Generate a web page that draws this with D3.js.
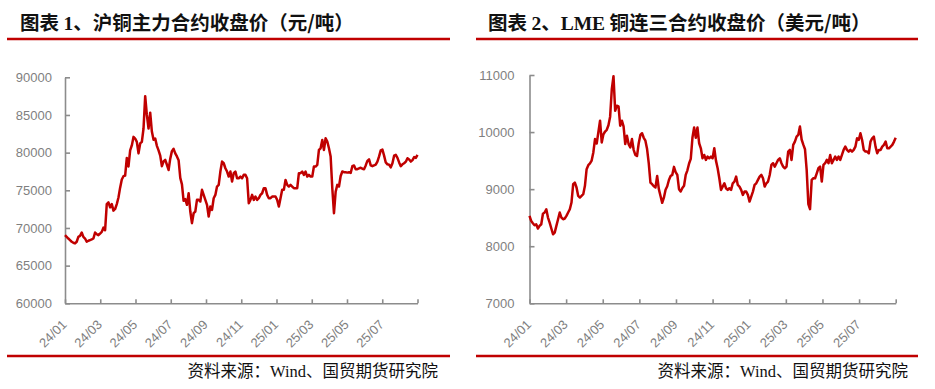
<!DOCTYPE html>
<html>
<head>
<meta charset="utf-8">
<script src="https://cdn.jsdelivr.net/npm/d3@7"></script>
<style>
  html, body { margin: 0; padding: 0; background: #fff; }
  svg { display: block; }
  .tick text { font-family: "Liberation Sans", Arial, sans-serif; font-size: 13px; fill: #7f7f7f; }
</style>
</head>
<body>
<svg id="chart" width="935" height="389"></svg>
<script>
// ---- data -------------------------------------------------------
const monthLabels = ["24/01", "24/03", "24/05", "24/07", "24/09", "24/11", "25/01", "25/03", "25/05", "25/07"];

const shfeTicks = [60000, 65000, 70000, 75000, 80000, 85000, 90000];
const lmeTicks = [7000, 8000, 9000, 10000, 11000];

// 沪铜主力合约收盘价 (元/吨)
const shfeClose = [
  69040, 68820, 68600, 68390, 68170, 68040, 67950, 68170, 68820, 68950,
  69390, 68820, 68600, 68170, 68300, 68390, 68480, 68600, 69390, 69170,
  69040, 69260, 69480, 70040, 69700, 73170, 73390, 72740, 73170, 72300,
  72520, 73170, 74040, 75350, 76430, 76870, 76960, 79300, 78170, 80300,
  80960, 82090, 81870, 81430, 79900, 81220, 81430, 83200, 87500, 85000,
  83200, 85300, 82800, 81700, 81870, 80900, 80300, 79600, 78200, 78830,
  79040, 78390, 77700, 79200, 80200, 80500, 79900, 79500, 79000, 76650,
  75780, 73610, 73830,
  73070, 74610, 72180, 70640, 71960, 72180, 73730, 73730, 73510, 75060,
  74390, 73730, 73070, 71520, 72850, 72400, 73950, 74390, 75500, 75720,
  77490, 78810, 78590, 77930, 77490, 76820, 77490, 76160, 77270, 77490,
  76600, 76600, 76820, 76600, 77050, 77050, 76600, 73290, 73730, 74390,
  73730, 74170, 73730, 73950, 74390, 74610, 75280, 75280, 74390, 73950,
  73950, 74170, 74170, 74170, 73730, 72850, 73950, 75060, 75060, 76380,
  75720, 75500, 75720, 75500, 75280, 75280, 75280, 77270, 77270, 77490,
  77050, 77490,
  76820, 77050, 76820, 76820, 78150, 78150, 78370, 80360, 80580, 81690,
  80360, 81910, 81470, 80580, 79500, 75280, 71960, 74800, 75720, 75500,
  76900, 77500, 77400, 77400, 77350, 77400, 77300, 78200, 78300, 77800,
  77800, 77900, 78000, 77850, 77800, 78300, 78900, 79100, 78300, 78200,
  78300, 78400, 78800, 79500, 80300, 80400, 79600, 78700, 78450, 78400,
  78050, 78600, 79600, 79700, 79300, 78700, 78200, 78450, 78590, 78800,
  79255, 79100, 78810, 79000, 79400, 79300, 79700
];

// LME 铜连三合约收盘价 (美元/吨)
const lmeClose = [
  8531, 8444, 8403, 8368, 8385, 8310, 8356, 8385, 8570, 8590,
  8648, 8502, 8414, 8310, 8210, 8239, 8356, 8473, 8590, 8502,
  8473, 8485, 8531, 8590, 8648, 8765, 9087, 9116, 9029, 8882,
  8853, 8882, 8912, 9058, 9350, 9420, 9450, 9500, 9643, 9877,
  9800, 10000, 10199, 9818, 9960, 10010, 10040, 10120, 10270, 10754,
  10980, 10374, 10462, 10450, 10111, 10199, 10100, 9789, 9935, 9789,
  9731, 9877, 9690, 9600, 9580, 9800, 9950, 9980, 9900, 9850,
  9702, 9450, 9116, 9087,
  9050, 9030, 9230, 9000, 8880, 8760, 8850, 8990, 9050, 9160,
  9230, 9250, 9390, 9300, 9250, 9000, 8960, 9020, 9060, 9250,
  9330, 9450, 9530, 9900, 10080, 9900, 10080,
  9804, 9716, 9541, 9599, 9512, 9570, 9541, 9570, 9541, 9716,
  9500, 9366, 9191, 8987, 9045, 9103, 9016, 8987, 9016, 8987,
  9103, 9133, 9220, 9074, 9045, 8987, 8899, 8957, 8957, 8899,
  8782, 8870, 8957, 9074, 9103, 9162, 9220, 9249, 9191, 9045,
  9103, 9133, 9249, 9424, 9454, 9395, 9454, 9512, 9541, 9454,
  9395, 9366, 9395, 9658, 9687, 9512, 9775, 9833, 9920, 9950,
  10096, 9870, 9780, 9700, 9337, 8740, 8650, 9162, 9191, 9191,
  9278, 9366, 9395, 9133, 9424, 9454, 9512, 9454, 9599, 9454,
  9512, 9570, 9512, 9570, 9512, 9599, 9687, 9745, 9687, 9658,
  9687, 9658, 9687, 9745, 9891, 9862, 9980, 9862, 9687, 9658,
  9658, 9629, 9833, 9891, 9920, 9745, 9629, 9687, 9687, 9745,
  9775, 9833, 9716, 9716, 9745, 9775, 9833, 9900
];

// ---- layout -------------------------------------------------------
const RED = "#c00000";
const AXIS = "#8c8c8c";
const svg = d3.select("#chart");

const panels = [
  {
    title: [["图表 ", "cjk"], ["1", "lat"], ["、沪铜主力合约收盘价（元/吨）", "cjk"]],
    titleX: 20, ruleX: [7, 450], sourceX: 438,
    values: shfeClose, ticks: shfeTicks,
    plot: { left: 65, right: 417.5, top: 77.3, bottom: 303.3 },
    labelPad: 13
  },
  {
    title: [["图表 ", "cjk"], ["2", "lat"], ["、", "cjk"], ["LME", "lat"], [" 铜连三合约收盘价（美元/吨）", "cjk"]],
    titleX: 488, ruleX: [476, 918], sourceX: 908,
    values: lmeClose, ticks: lmeTicks,
    plot: { left: 529.5, right: 895.7, top: 75, bottom: 303.3 },
    labelPad: 15
  }
];

panels.forEach(drawPanel);

function drawPanel(p) {
  // title + red rules
  const t = svg.append("text")
    .attr("x", p.titleX).attr("y", 30)
    .attr("font-size", 19.5).attr("font-weight", "bold").attr("fill", "#111");
  p.title.forEach(([s, kind]) => {
    t.append("tspan")
      .attr("font-family", kind === "lat" ? "'Liberation Serif', serif" : "'Noto Sans CJK SC', sans-serif")
      .text(s);
  });

  [39, 356].forEach(y => {
    svg.append("line")
      .attr("x1", p.ruleX[0]).attr("x2", p.ruleX[1])
      .attr("y1", y).attr("y2", y)
      .attr("stroke", RED).attr("stroke-width", 2.3);
  });

  const src = svg.append("text")
    .attr("x", p.sourceX).attr("y", 377)
    .attr("text-anchor", "end")
    .attr("font-size", 16.5).attr("fill", "#111")
    .attr("font-family", "'Noto Sans CJK SC', sans-serif");
  src.append("tspan").text("资料来源：");
  src.append("tspan").attr("font-family", "'Liberation Serif', serif").text("Wind");
  src.append("tspan").text("、国贸期货研究院");

  // scales
  const n = p.values.length;
  const x = d3.scaleLinear().domain([0, n - 1]).range([p.plot.left, p.plot.right]);
  const y = d3.scaleLinear()
    .domain([p.ticks[0], p.ticks[p.ticks.length - 1]])
    .range([p.plot.bottom, p.plot.top]);

  // y axis, ticks pointing inward
  const gy = svg.append("g")
    .attr("transform", `translate(${p.plot.left},0)`)
    .call(d3.axisLeft(y).tickValues(p.ticks).tickFormat(d3.format("d"))
      .tickSizeInner(-5).tickSizeOuter(0).tickPadding(p.labelPad));
  gy.select(".domain").attr("stroke", AXIS).attr("stroke-width", 1.6);
  gy.selectAll(".tick line").attr("stroke", AXIS).attr("stroke-width", 1.6);

  // x axis: one tick every two months, labels rotated
  const tickIdx = d3.range(0, 11).map(k => (n - 1) * k / 10);
  const gx = svg.append("g")
    .attr("transform", `translate(0,${p.plot.bottom})`)
    .call(d3.axisBottom(x).tickValues(tickIdx)
      .tickFormat((d, i) => monthLabels[i] || "")
      .tickSizeInner(-4).tickSizeOuter(0));
  gx.select(".domain").attr("stroke", AXIS).attr("stroke-width", 1.6);
  gx.selectAll(".tick line").attr("stroke", AXIS).attr("stroke-width", 1.6);
  gx.selectAll(".tick text")
    .attr("text-anchor", "end")
    .attr("dy", null)
    .attr("y", null)
    .attr("transform", "translate(2,22) rotate(-45)");

  // price line
  svg.append("path")
    .datum(p.values)
    .attr("fill", "none")
    .attr("stroke", RED)
    .attr("stroke-width", 2.5)
    .attr("stroke-linejoin", "round")
    .attr("d", d3.line().x((d, i) => x(i)).y(d => y(d)));
}
</script>
</body>
</html>
